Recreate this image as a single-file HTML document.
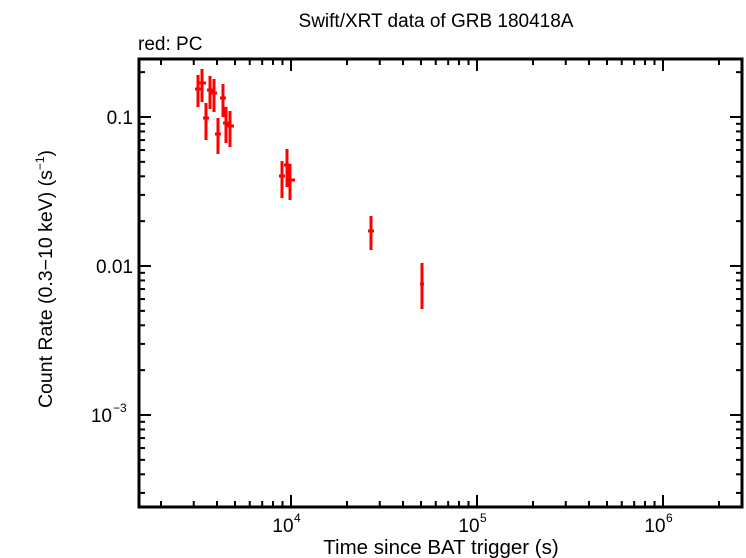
<!DOCTYPE html>
<html><head><meta charset="utf-8"><style>
html,body{margin:0;padding:0;background:#fff;}
svg{display:block;font-family:"Liberation Sans",sans-serif;}
</style></head><body>
<svg id="s" width="746" height="558" viewBox="0 0 746 558" xmlns="http://www.w3.org/2000/svg">
<rect width="746" height="558" fill="#fff"/>
<g id="ticks" stroke="#000" stroke-width="2"></g>
<rect x="139" y="59" width="603" height="448" fill="none" stroke="#000" stroke-width="3"/>
<text x="436" y="27" font-size="19" text-anchor="middle">Swift/XRT data of GRB 180418A</text>
<text x="138" y="50" font-size="19">red: PC</text>
<text x="133" y="124" font-size="19" text-anchor="end">0.1</text>
<text x="133" y="273" font-size="19" text-anchor="end">0.01</text>
<text x="112" y="422" font-size="19" text-anchor="end">10</text>
<text x="113" y="412" font-size="12">−3</text>
<text x="283" y="532" font-size="19" text-anchor="middle">10</text>
<text x="294" y="522" font-size="12">4</text>
<text x="469" y="532" font-size="19" text-anchor="middle">10</text>
<text x="480" y="522" font-size="12">5</text>
<text x="655" y="532" font-size="19" text-anchor="middle">10</text>
<text x="666" y="522" font-size="12">6</text>
<text x="441" y="554" font-size="20.5" text-anchor="middle">Time since BAT trigger (s)</text>
<text transform="translate(52,279) rotate(-90)" font-size="19.5" text-anchor="middle">Count Rate (0.3−10 keV) (s<tspan font-size="12" dy="-8">−1</tspan><tspan dy="8">)</tspan></text>
<g id="data" stroke="#f00" stroke-width="3"></g>
</svg>
<script>
var t=document.getElementById('ticks'),s='';
function L(a,b,c,d){s+='<line x1="'+a+'" y1="'+b+'" x2="'+c+'" y2="'+d+'"/>';}
var x0=291,dx=186;
for(var e=3;e<=6;e++)for(var m=1;m<10;m++){var x=x0+(e-4+Math.log10(m))*dx;if(x<140||x>741)continue;var l=m==1?12:6;L(x,507,x,507-l);L(x,59,x,59+l);}
var y0=117,dy=149;
for(var e=-4;e<=0;e++)for(var m=1;m<10;m++){var y=y0-(e+1+Math.log10(m))*dy;if(y<60||y>506)continue;var l=m==1?12:6;L(139,y,139+l,y);L(742,y,742-l,y);}
t.innerHTML=s;
var d=[[198,89,75,107,195,202],[202,83,69,102,199,206],[206,118,103,140,203,209],[210,90,76,109,207,213],[214,93,79,112,211,217],[218,134,118,154,215,221],[223,98,84,117,220,226],[226,123,107,143,223,229],[230,126,111,147,227,234],[282,176,161,198,279,285],[287,165,149,187,284,290],[290,180,164,200,287,295],[371,231,216,250,368,374],[422,284,263,309,420,424]];
s='';d.forEach(function(p){L(p[0],p[2],p[0],p[3]);L(p[4],p[1],p[5],p[1]);});
document.getElementById('data').innerHTML=s;
</script>
</body></html>
